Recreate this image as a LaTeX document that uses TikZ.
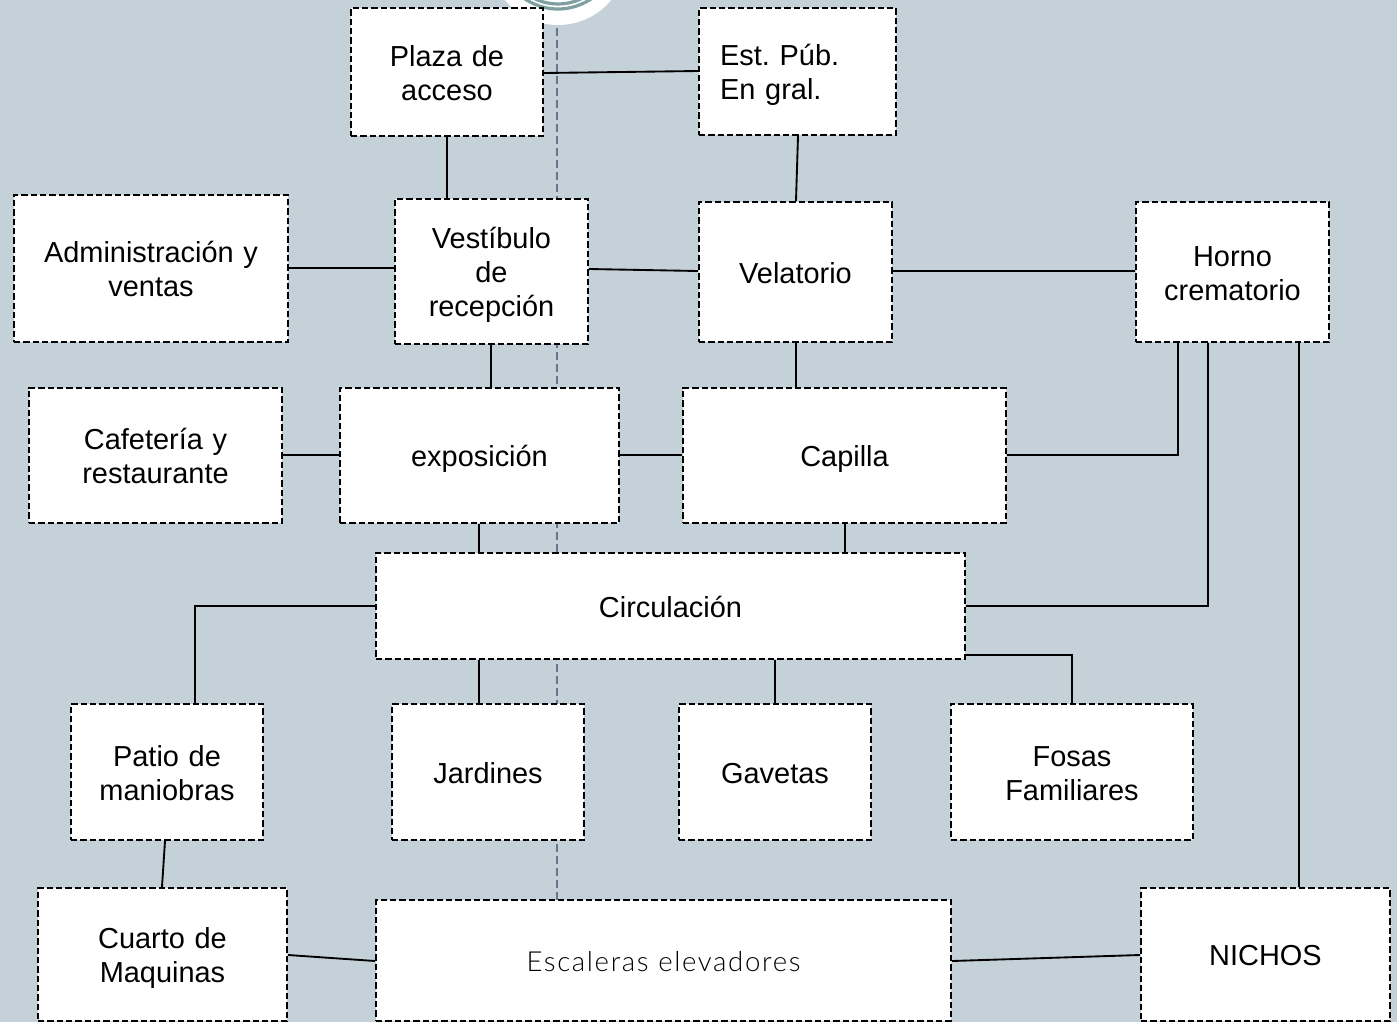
\documentclass[tikz,border=0pt]{standalone}
\usepackage{fontspec}
\setmainfont{Liberation Sans}
\newfontfamily\lightf{Lato}[UprightFont=* Light]
\definecolor{bgc}{HTML}{C5D1D8}
\definecolor{axisc}{HTML}{667389}
\definecolor{ringc}{HTML}{7F9FA0}
\tikzset{
  box/.style={draw=black,fill=white,line width=1.6pt,dash pattern=on 4.8pt off 2.2pt,inner sep=0pt,align=center,font=\fontsize{21.7pt}{25.7pt}\selectfont\frenchspacing},
  link/.style={draw=black,line width=1.4pt},
  axisline/.style={draw=axisc,line width=1.2pt,dash pattern=on 6pt off 3pt},
  ring/.style={draw=ringc,line width=2.4pt}
}
\newcommand{\topst}{\rule{0pt}{22.8pt}}
\newcommand{\botst}{\rule[-6pt]{0pt}{6pt}}
\newcommand{\bx}[6]{\node[box,minimum width={(#4-#2)*0.75pt},minimum height={(#5-#3)*0.75pt},text width={(#4-#2)*0.75pt}] (#1) at ({(#2+#4)/2},{(#3+#5)/2}) {\topst #6\botst};}
\begin{document}
\begin{tikzpicture}[x=0.75pt,y=-0.75pt]
\useasboundingbox (0,0) rectangle (1397,1022);
\clip (0,0) rectangle (1397,1022);
\fill[bgc] (0,0) rectangle (1397,1022);
\fill[white] (558,-44) circle[radius=69];
\draw[ring] (558,-50) circle[radius=59];
\draw[ring] (558,-50) circle[radius=54];
\coordinate (axtop) at (557,28);
\coordinate (axbot) at (557,900);
\draw[axisline] (axtop) -- (axbot);
\bx{plaza}{351}{8}{543}{136}{Plaza de\\acceso}
\node[box,minimum width=147.75pt,minimum height=95.25pt,text width=116pt,align=left] (est) at (797.5,71.5) {\topst Est. Púb.\\En gral.\botst};
\bx{admin}{14}{195}{288}{342}{Administración y\\ventas}
\bx{vest}{395}{199}{588}{344}{Vestíbulo\\de\\recepción}
\bx{vel}{699}{202}{892}{342}{Velatorio}
\bx{horno}{1136}{202}{1329}{342}{Horno\\crematorio}
\bx{cafe}{29}{388}{282}{523}{Cafetería y\\restaurante}
\bx{expo}{340}{388}{619}{523}{exposición}
\bx{capilla}{683}{388}{1006}{523}{Capilla}
\bx{circ}{376}{553}{965}{659}{Circulación}
\bx{patio}{71}{704}{263}{840}{Patio de\\maniobras}
\bx{jard}{392}{704}{584}{840}{Jardines}
\bx{gav}{679}{704}{871}{840}{Gavetas}
\bx{fosas}{951}{704}{1193}{840}{Fosas\\Familiares}
\bx{cuarto}{38}{888}{287}{1021}{Cuarto de\\Maquinas}
\bx{esc}{376}{900}{951}{1021}{{\lightf\fontsize{20.7pt}{24pt}\selectfont\addfontfeature{LetterSpace=6}Escaleras elevadores}}
\bx{nichos}{1141}{888}{1390}{1021}{NICHOS}
\draw[link] (plaza.east |- 0,73) -- (est.west |- 0,71);
\draw[link] (plaza.south) -- (vest.north -| plaza.south);
\draw[link] (est.south -| 798,0) -- (vel.north -| 796,0);
\draw[link] (admin.east |- 0,268) -- (vest.west |- 0,268);
\draw[link] (vest.east |- 0,269) -- (vel.west |- 0,271);
\draw[link] (vel.east |- 0,271) -- (horno.west |- 0,271);
\draw[link] (vest.south -| 491,0) -- (expo.north -| 491,0);
\draw[link] (vel.south -| 796,0) -- (capilla.north -| 796,0);
\draw[link] (cafe.east |- 0,455) -- (expo.west |- 0,455);
\draw[link] (expo.east |- 0,455) -- (capilla.west |- 0,455);
\draw[link] (capilla.east |- 0,455) -| (horno.south -| 1178,0);
\draw[link] (circ.east |- 0,606) -| (horno.south -| 1208,0);
\draw[link] (horno.south -| 1299,0) -- (nichos.north -| 1299,0);
\draw[link] (expo.south -| 479,0) -- (circ.north -| 479,0);
\draw[link] (capilla.south -| 845,0) -- (circ.north -| 845,0);
\draw[link] (circ.west |- 0,606) -| (patio.north -| 195,0);
\draw[link] (circ.south -| 479,0) -- (jard.north -| 479,0);
\draw[link] (circ.south -| 775,0) -- (gav.north -| 775,0);
\draw[link] (circ.east |- 0,655) -| (fosas.north -| 1072,0);
\draw[link] (patio.south -| 165,0) -- (cuarto.north -| 162,0);
\draw[link] (cuarto.east |- 0,955) -- (esc.west |- 0,961);
\draw[link] (esc.east |- 0,961) -- (nichos.west |- 0,955);
\end{tikzpicture}
\end{document}
